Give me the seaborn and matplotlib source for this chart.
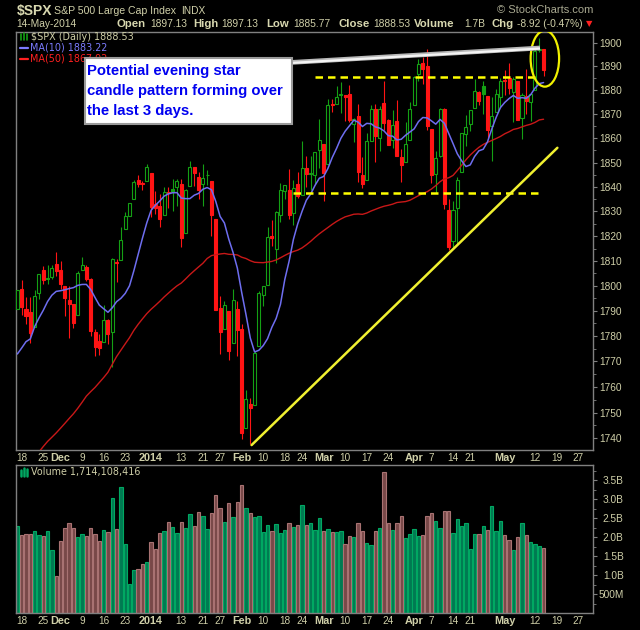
import numpy as np
import pandas as pd
import matplotlib
matplotlib.use("Agg")
import matplotlib.pyplot as plt
import seaborn as sns
from matplotlib.patches import Ellipse, Rectangle
from matplotlib.lines import Line2D
from matplotlib.ticker import FixedLocator, NullFormatter

# ==========================================
# DATA  ($SPX daily, 15-Nov-2013 .. 14-May-2014)
# ==========================================

# closes before the window (3-Sep-2013 .. 14-Nov-2013), only used for the moving averages
prior_close = [
    1639.77, 1653.08, 1655.08, 1655.17, 1671.71, 1683.99, 1689.13, 1683.42, 1687.99, 1697.60,
    1704.76, 1725.52, 1722.34, 1709.91, 1701.84, 1697.42, 1692.77, 1698.67, 1691.75, 1681.55,
    1695.00, 1693.87, 1678.66, 1690.50, 1676.12, 1655.45, 1656.40, 1692.56, 1703.20, 1710.14,
    1698.06, 1721.54, 1733.15, 1744.50, 1744.66, 1754.67, 1746.38, 1752.07, 1759.77, 1762.11,
    1771.95, 1763.31, 1756.54, 1761.64, 1767.93, 1762.97, 1770.49, 1747.15, 1770.61, 1771.89,
    1767.69, 1782.00, 1790.62,
]

opens = [
    1790.66, 1798.82, 1790.79, 1789.59, 1783.53, 1797.21, 1806.33, 1802.87, 1803.48, 1808.69,
    1806.55, 1800.10, 1794.17, 1792.82, 1788.36, 1806.21, 1807.60, 1802.76, 1781.71, 1777.98,
    1777.48, 1786.47, 1781.46, 1809.00, 1810.39, 1822.92, 1828.02, 1834.96, 1842.97, 1841.47,
    1842.61, 1845.86, 1833.21, 1832.31, 1828.71, 1837.90, 1839.00, 1840.06, 1841.26, 1821.36,
    1840.52, 1847.99, 1844.23, 1841.05, 1844.71, 1842.29, 1826.96, 1791.03, 1783.00, 1790.15,
    1777.17, 1790.88, 1782.68, 1743.82, 1753.38, 1752.99, 1776.01, 1796.20, 1800.45, 1820.12,
    1814.88, 1828.46, 1838.22, 1838.90, 1829.24, 1841.07, 1836.78, 1847.66, 1845.79, 1844.90,
    1855.12, 1857.68, 1849.23, 1874.05, 1874.18, 1878.52, 1877.86, 1878.26, 1866.15, 1869.06,
    1845.07, 1842.81, 1858.92, 1872.25, 1860.09, 1874.53, 1867.67, 1859.48, 1867.09, 1852.11,
    1850.07, 1859.16, 1873.96, 1886.61, 1891.43, 1890.25, 1863.92, 1845.48, 1852.64, 1872.28,
    1830.65, 1818.18, 1831.45, 1846.01, 1861.73, 1865.79, 1872.57, 1879.32, 1881.97, 1877.72,
    1865.00, 1870.78, 1877.10, 1884.39, 1885.30, 1879.45, 1883.69, 1868.53, 1877.39, 1875.27,
    1880.03, 1896.75, 1897.13,
]

highs = [
    1798.22, 1802.33, 1795.51, 1795.73, 1798.22, 1804.84, 1808.10, 1808.42, 1808.27, 1813.55,
    1810.02, 1800.10, 1799.80, 1792.82, 1806.04, 1811.52, 1808.52, 1802.97, 1782.99, 1780.92,
    1792.22, 1786.77, 1811.08, 1810.88, 1823.75, 1829.75, 1833.32, 1842.84, 1844.89, 1842.47,
    1849.44, 1845.86, 1838.24, 1837.16, 1840.10, 1840.02, 1843.23, 1843.15, 1843.45, 1839.26,
    1850.84, 1847.99, 1846.04, 1849.31, 1846.87, 1842.29, 1826.96, 1795.98, 1793.87, 1790.15,
    1798.77, 1793.88, 1784.83, 1758.73, 1755.79, 1774.06, 1798.03, 1799.94, 1823.54, 1826.55,
    1830.25, 1841.65, 1840.80, 1847.50, 1842.79, 1846.13, 1858.71, 1852.91, 1852.65, 1854.53,
    1867.92, 1857.68, 1876.23, 1876.53, 1881.94, 1883.57, 1877.87, 1882.35, 1868.38, 1874.40,
    1852.44, 1862.30, 1873.76, 1874.14, 1873.49, 1883.97, 1867.92, 1871.87, 1875.92, 1855.55,
    1866.63, 1875.18, 1885.84, 1893.17, 1893.80, 1897.28, 1864.04, 1854.95, 1872.43, 1872.53,
    1835.07, 1834.19, 1844.02, 1862.31, 1869.63, 1871.89, 1884.89, 1879.75, 1884.06, 1877.72,
    1877.01, 1880.60, 1885.20, 1888.59, 1891.33, 1885.51, 1883.69, 1878.83, 1889.07, 1878.57,
    1897.13, 1902.17, 1897.13,
]

lows = [
    1790.66, 1788.39, 1784.72, 1777.23, 1783.53, 1794.70, 1800.58, 1800.77, 1802.77, 1803.98,
    1798.60, 1787.85, 1779.09, 1783.38, 1788.36, 1806.21, 1801.75, 1780.09, 1772.28, 1772.45,
    1777.48, 1777.05, 1767.99, 1801.35, 1810.25, 1822.92, 1828.02, 1834.96, 1839.81, 1838.77,
    1842.41, 1827.74, 1829.13, 1823.73, 1828.71, 1831.40, 1830.38, 1832.43, 1815.52, 1821.36,
    1840.52, 1840.30, 1835.23, 1832.38, 1840.88, 1820.06, 1790.29, 1772.88, 1782.83, 1770.45,
    1777.17, 1772.26, 1739.66, 1743.82, 1737.92, 1752.99, 1776.01, 1791.83, 1800.41, 1815.97,
    1809.22, 1825.59, 1835.00, 1826.99, 1824.58, 1835.60, 1836.78, 1840.19, 1838.66, 1841.13,
    1847.67, 1834.44, 1849.23, 1871.11, 1874.18, 1870.56, 1867.04, 1866.69, 1858.39, 1841.86,
    1839.57, 1842.81, 1858.92, 1850.35, 1854.63, 1863.46, 1857.14, 1855.96, 1852.56, 1842.11,
    1850.07, 1859.16, 1873.96, 1883.79, 1882.65, 1863.26, 1841.48, 1837.49, 1852.38, 1830.87,
    1814.36, 1815.80, 1816.29, 1846.01, 1856.72, 1863.18, 1872.57, 1873.91, 1870.24, 1859.70,
    1850.61, 1870.78, 1872.69, 1878.04, 1878.50, 1866.77, 1867.72, 1859.79, 1870.05, 1867.02,
    1880.03, 1896.06, 1885.77,
]

closes = [
    1798.18, 1791.53, 1787.87, 1781.37, 1795.85, 1804.76, 1802.48, 1802.75, 1807.23, 1805.81,
    1800.90, 1795.15, 1792.81, 1785.03, 1805.09, 1808.37, 1802.62, 1782.22, 1775.50, 1775.32,
    1786.54, 1781.00, 1810.65, 1809.60, 1818.32, 1827.99, 1833.32, 1842.02, 1841.40, 1841.07,
    1848.36, 1831.98, 1831.37, 1826.77, 1837.88, 1837.49, 1838.13, 1842.37, 1819.20, 1838.88,
    1848.38, 1845.89, 1838.70, 1843.80, 1844.86, 1828.46, 1790.29, 1781.56, 1792.50, 1774.20,
    1794.19, 1782.59, 1741.89, 1755.20, 1751.64, 1773.43, 1797.02, 1799.84, 1819.75, 1819.26,
    1829.83, 1838.63, 1840.76, 1828.75, 1839.78, 1836.25, 1847.61, 1845.12, 1845.16, 1854.29,
    1859.45, 1845.73, 1873.91, 1873.81, 1877.03, 1878.04, 1877.17, 1867.63, 1868.20, 1846.34,
    1841.13, 1858.83, 1872.25, 1860.77, 1872.01, 1866.52, 1857.44, 1865.62, 1852.56, 1849.04,
    1857.62, 1872.34, 1885.52, 1890.90, 1888.77, 1865.09, 1845.04, 1851.96, 1872.18, 1833.08,
    1815.69, 1830.61, 1842.98, 1862.31, 1864.85, 1871.89, 1879.55, 1875.39, 1878.61, 1863.40,
    1869.43, 1878.33, 1883.95, 1883.68, 1881.14, 1884.66, 1867.72, 1878.21, 1875.63, 1878.48,
    1896.65, 1897.45, 1888.53,
]

# volume in billions of shares
volume = [
    2.30, 2.05, 2.08, 2.08, 2.17, 2.05, 2.03, 2.17, 1.67, 0.98,
    1.90, 2.24, 2.37, 2.24, 2.00, 2.08, 2.03, 2.24, 2.08, 1.89,
    2.18, 2.13, 3.03, 2.21, 3.32, 1.82, 0.76, 1.13, 1.16, 1.29,
    1.34, 1.87, 1.68, 2.11, 2.16, 2.39, 2.26, 2.11, 2.39, 2.24,
    2.61, 2.29, 2.66, 2.55, 2.21, 2.63, 3.11, 2.76, 2.39, 2.89,
    2.53, 2.92, 3.37, 2.76, 2.63, 2.53, 2.55, 2.13, 2.32, 2.16,
    2.34, 2.11, 2.18, 2.37, 2.26, 2.32, 2.84, 2.32, 2.37, 2.18,
    2.50, 2.16, 2.21, 2.13, 2.13, 2.16, 1.82, 2.03, 2.00, 2.37,
    2.16, 1.84, 1.79, 2.16, 2.24, 3.71, 2.37, 2.18, 2.37, 2.55,
    1.97, 2.08, 2.21, 2.03, 2.05, 2.55, 2.63, 2.42, 2.24, 2.68,
    2.68, 2.11, 2.47, 2.29, 2.37, 1.68, 2.08, 2.08, 2.29, 2.18,
    2.82, 2.16, 2.42, 2.05, 1.92, 1.66, 2.00, 2.37, 2.05, 1.87,
    1.82, 1.76, 1.71,
]

# trading-day positions of the date labels (0 = 18-Nov-2013)
tick_pos = [0, 5, 9, 14, 19, 24, 30, 37, 42, 46, 51, 56, 61, 65, 70, 75, 80, 85, 91, 95, 100, 104, 112, 119, 124, 129]
tick_lab = ["18", "25", "Dec", "9", "16", "23", "2014", "13", "21", "27", "Feb", "10", "18", "24",
            "Mar", "10", "17", "24", "Apr", "7", "14", "21", "May", "12", "19", "27"]
bold_lab = ["Dec", "2014", "Feb", "Mar", "Apr", "May"]

price_ticks = [1740, 1750, 1760, 1770, 1780, 1790, 1800, 1810, 1820, 1830, 1840, 1850, 1860, 1870, 1880, 1890, 1900]
vol_ticks = [0.5, 1.0, 1.5, 2.0, 2.5, 3.0, 3.5]
vol_labels = ["500M", "1.0B", "1.5B", "2.0B", "2.5B", "3.0B", "3.5B"]

# drawn-in annotations (trading day, price)
resistance = 1885.6
resistance_span = [68, 119.7]
support = 1837.4
support_span = [63, 119.7]
trend_day = [53.3, 124.2]
trend_price = [1737.4, 1856.1]

# ==========================================
# PREP
# ==========================================

df = pd.DataFrame({"day": np.arange(-1, len(closes) - 1), "open": opens, "high": highs,
                   "low": lows, "close": closes, "volume": volume})
all_close = pd.Series(prior_close + closes)
df["ma10"] = all_close.rolling(10).mean().iloc[len(prior_close):].values
df["ma50"] = all_close.rolling(50).mean().iloc[len(prior_close):].values
prev_close = pd.Series([prior_close[-1]] + closes[:-1])
df["up"] = df["close"] >= prev_close
df["hollow"] = df["close"] >= df["open"]

GREEN = "#14a014"
RED = "#ff1414"
BEIGE = "#cfcfa8"
GRAY = "#808080"

sns.set_style("dark", {"axes.facecolor": "black", "figure.facecolor": "black", "axes.grid": False,
                       "axes.edgecolor": GRAY})
plt.rcParams["font.family"] = ["Liberation Sans", "DejaVu Sans"]

W, H = 640, 630
fig = plt.figure(figsize=(6.4, 6.3), dpi=100)


def fx(x):
    return x / W


def fy(y):
    return 1 - y / H


ax = fig.add_axes([fx(16), fy(450), fx(593) - fx(16), fy(32) - fy(450)])
axv = fig.add_axes([fx(16), fy(613.3), fx(593) - fx(16), fy(465) - fy(613.3)])

# ==========================================
# PRICE PANEL
# ==========================================

ax.set_yscale("log")
col = np.where(df["up"], GREEN, RED)
face = np.where(df["hollow"], "black", col)

ax.vlines(df["day"], df["low"], df["high"], colors=col, lw=0.8, zorder=2)
body = (df["close"] - df["open"]).abs().clip(lower=0.4)
ax.bar(df["day"], body, bottom=np.minimum(df["open"], df["close"]), width=0.7,
       color=face, edgecolor=col, linewidth=0.8, zorder=3)

sns.lineplot(x=df["day"], y=df["ma50"], ax=ax, color="#c81818", lw=1.0, zorder=4)
sns.lineplot(x=df["day"], y=df["ma10"], ax=ax, color="#6e6ef0", lw=1.1, zorder=4)

ax.hlines(resistance, *resistance_span, colors="#ffff00", linestyles=(0, (3, 2)), lw=1.8, zorder=5)
ax.hlines(support, *support_span, colors="#ffff00", linestyles=(0, (3, 2)), lw=1.8, zorder=5)
ax.plot(trend_day, trend_price, color="#f0f030", lw=1.8, zorder=5)
ax.add_patch(Ellipse((121.3, 1893.3), width=6.6, height=23.6, fill=False,
                     edgecolor="#f0f000", lw=1.6, zorder=6))

ax.set_xlim(-1.32, 132.46)
ax.set_ylim(1735.5, 1904.5)
ax.yaxis.tick_right()
ax.yaxis.set_major_locator(FixedLocator(price_ticks))
ax.yaxis.set_minor_locator(FixedLocator([t + 5 for t in price_ticks[:-1]]))
ax.set_yticklabels([str(t) for t in price_ticks])
ax.yaxis.set_minor_formatter(NullFormatter())
ax.set_xlabel("")
ax.set_ylabel("")

# ==========================================
# VOLUME PANEL
# ==========================================

ups = df[df["up"]]
downs = df[~df["up"]]
sns.barplot(x=ups["day"], y=ups["volume"], ax=axv, native_scale=True, orient="x", errorbar=None,
            color="#007a52", edgecolor="#00a862", linewidth=0.8, width=0.78, saturation=1)
sns.barplot(x=downs["day"], y=downs["volume"], ax=axv, native_scale=True, orient="x", errorbar=None,
            color="#784848", edgecolor="#a87272", linewidth=0.8, width=0.78, saturation=1)

axv.set_xlim(-1.32, 132.46)
axv.set_ylim(0, 3.9)
axv.yaxis.tick_right()
axv.yaxis.set_major_locator(FixedLocator(vol_ticks))
axv.yaxis.set_minor_locator(FixedLocator(np.arange(0.25, 3.9, 0.25)))
axv.set_yticklabels(vol_labels)
axv.set_xlabel("")
axv.set_ylabel("")

for a, pad in [(ax, 1.5), (axv, 19)]:
    for s in a.spines.values():
        s.set_color(GRAY)
        s.set_linewidth(1.0)
    a.set_xticks(tick_pos)
    a.set_xticks(np.arange(-1, 133), minor=True)
    a.set_xticklabels(tick_lab)
    a.tick_params(axis="x", which="major", direction="in", length=3, color=GRAY,
                  labelcolor=BEIGE, labelsize=7.2, pad=2)
    a.tick_params(axis="x", which="minor", direction="in", length=1.5, color=GRAY)
    a.tick_params(axis="y", which="major", direction="out", length=3, color=GRAY,
                  labelcolor=BEIGE, labelsize=7.3, pad=pad)
    a.tick_params(axis="y", which="minor", direction="out", length=1.8, color=GRAY)
    for lab in a.get_xticklabels():
        if lab.get_text() in bold_lab:
            lab.set_fontweight("bold")
            lab.set_fontsize(7.8)
    a.grid(False)

for lab in axv.get_yticklabels():
    lab.set_horizontalalignment("right")

# ==========================================
# TEXT / LEGENDS / CALLOUT
# ==========================================

fig.text(fx(16.5), fy(10.5), "$SPX", color="#d8d8b0", fontsize=10, fontweight="bold", va="center")
fig.text(fx(54), fy(10.5), "S&P 500 Large Cap Index", color=BEIGE, fontsize=7.6, va="center")
fig.text(fx(181.5), fy(10.5), "INDX", color=BEIGE, fontsize=7.3, va="center")
fig.text(fx(16.5), fy(24), "14-May-2014", color=BEIGE, fontsize=7.4, va="center")
fig.text(fx(593), fy(10), "\u00a9 StockCharts.com", color="#a8a890", fontsize=8, va="center", ha="right")

header = [("Open", 116.7, True), ("1897.13", 150, False), ("High", 193.3, True), ("1897.13", 221.7, False),
          ("Low", 266, True), ("1885.77", 293.3, False), ("Close", 338.3, True), ("1888.53", 373.3, False),
          ("Volume", 414.3, True), ("1.7B", 464, False), ("Chg", 491.7, True), ("-8.92 (-0.47%)", 517.3, False)]
for txt, x, bold in header:
    fig.text(fx(x), fy(24), txt, color="#d8d8b0" if bold else BEIGE, fontsize=8.2 if bold else 7.4,
             fontweight="bold" if bold else "normal", va="center")
fig.text(fx(585.5), fy(24), "\u25bc", color="#ff2020", fontsize=6, va="center", family=["DejaVu Sans"])

legend_font = ["DejaVu Sans"]
fig.text(fx(31), fy(36.5), "$SPX (Daily) 1888.53", color=BEIGE, fontsize=6.9, va="center",
         family=legend_font, zorder=3)
fig.text(fx(29.5), fy(47.5), f"MA(10) {df['ma10'].iloc[-1]:.2f}", color="#7c7cff", fontsize=6.9,
         va="center", family=legend_font, zorder=3)
fig.text(fx(29.5), fy(58.5), f"MA(50) {df['ma50'].iloc[-1]:.2f}", color="#ff2020", fontsize=6.9,
         va="center", family=legend_font, zorder=3)
fig.text(fx(31), fy(472), f"Volume {1714108416:,}", color=BEIGE, fontsize=6.9, va="center",
         family=legend_font, zorder=3)

fig.add_artist(Line2D([fx(20), fx(28)], [fy(47.5), fy(47.5)], color="#7c7cff", lw=1.6, zorder=3))
fig.add_artist(Line2D([fx(20), fx(28)], [fy(58.5), fy(58.5)], color="#ff2020", lw=1.6, zorder=3))
for dx, top in [(21, 34), (24, 32.5), (27, 34)]:
    fig.add_artist(Line2D([fx(dx), fx(dx)], [fy(40), fy(top)], color=GREEN, lw=1.2, zorder=3))
for dx, top in [(21, 470), (24, 467.5), (27, 469)]:
    fig.add_artist(Line2D([fx(dx), fx(dx)], [fy(475.5), fy(top)], color="#00a862", lw=1.8, zorder=3))

# callout line to the last candles
fig.add_artist(Line2D([fx(290), fx(540)], [fy(62.5), fy(48)], color="#b8b8b8", lw=3.4, zorder=6,
                      solid_capstyle="butt"))
fig.add_artist(Line2D([fx(290), fx(540)], [fy(63), fy(48.5)], color="#f4f4f4", lw=1.6, zorder=6,
                      solid_capstyle="butt"))
fig.add_artist(Rectangle((fx(84.5), fy(123.5)), fx(292) - fx(84.5), fy(57.5) - fy(123.5),
                         facecolor="white", edgecolor="#9a9a9a", lw=1.5, zorder=7))
for txt, y in [("Potential evening star", 71.5), ("candle pattern forming over", 91.5),
               ("the last 3 days.", 110.5)]:
    fig.text(fx(87), fy(y), txt, color="#0000f0", fontsize=10.7, fontweight="bold", va="center",
             family=["Liberation Sans"], zorder=8)

fig.savefig("out.png", dpi=100, facecolor="black")
